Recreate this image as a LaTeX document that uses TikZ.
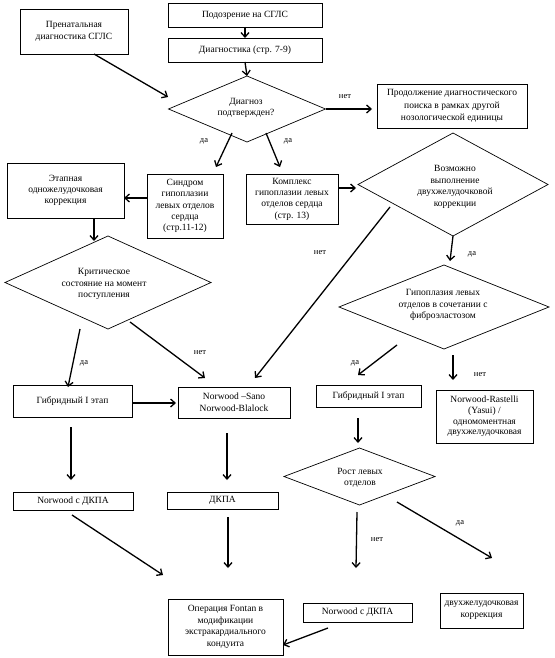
\documentclass[tikz,border=0pt]{standalone}
\usepackage{fontspec}
\setmainfont{Liberation Serif}
\usetikzlibrary{shapes.geometric,arrows.meta,shadows}
\begin{document}
\begin{tikzpicture}[x=1pt,y=-1pt,
  box/.style={draw, fill=white, line width=0.7pt, align=center, inner sep=1pt, outer sep=0pt,
    font=\fontsize{9.5}{11.5}\selectfont,
    drop shadow={shadow xshift=1pt, shadow yshift=-1pt, fill=black!60, opacity=1}},
  dia/.style={draw, diamond, line width=0.7pt, inner sep=0pt, outer sep=0pt},
  diatext/.style={align=center, inner sep=0pt, font=\fontsize{9.5}{11.5}\selectfont},
  arr/.style={line width=1.3pt, -{Straight Barb[length=4.5pt,width=8pt,line width=1.3pt]}},
  lab/.style={font=\fontsize{8.5}{10}\selectfont, inner sep=0pt}]
\useasboundingbox (0,0) rectangle (554,658);

% ---- boxes
\node[box, minimum width=154pt, minimum height=24pt] (b1) at (245,15) {Подозрение на СГЛС};
\node[box, minimum width=108pt, minimum height=45pt] (b2) at (74,31.5) {Пренатальная\\диагностика СГЛС};
\node[box, minimum width=154pt, minimum height=24pt] (b3) at (245,50) {Диагностика (стр. 7-9)};
\node[box, minimum width=150pt, minimum height=44pt, font=\fontsize{9.5}{12.5}\selectfont] (b4) at (452,106)
  {Продолжение диагностического\\поиска в рамках другой\\нозологической единицы};
\node[box, minimum width=117pt, minimum height=55pt, font=\fontsize{9.5}{11.3}\selectfont] (b5) at (65.5,190.5)
  {Этапная\\одножелудочковая\\коррекция};
\node[box, minimum width=76pt, minimum height=64pt, font=\fontsize{9.5}{11.3}\selectfont] (b6) at (185,206)
  {Синдром\\гипоплазии\\левых отделов\\сердца\\(стр.11-12)};
\node[box, minimum width=92pt, minimum height=50pt, font=\fontsize{9.5}{11.3}\selectfont] (b7) at (292,199)
  {Комплекс\\гипоплазии левых\\отделов сердца\\(стр. 13)};
\node[box, minimum width=119pt, minimum height=32pt] (b8) at (72.5,401) {Гибридный I этап};
\node[box, minimum width=112pt, minimum height=31pt, font=\fontsize{9.5}{12}\selectfont] (b9) at (234,402.5)
  {Norwood –Sano\\Norwood-Blalock};
\node[box, minimum width=105pt, minimum height=22pt] (b10) at (368.5,396) {Гибридный I этап};
\node[box, minimum width=97pt, minimum height=53pt, font=\fontsize{9.5}{10.8}\selectfont] (b11) at (484.5,416.5)
  {Norwood-Rastelli\\(Yasui) /\\одномоментная\\двухжелудочковая};
\node[box, minimum width=120pt, minimum height=18pt] (b12) at (73,501) {Norwood с ДКПА};
\node[box, minimum width=111pt, minimum height=17pt] (b13) at (222.5,500.5) {ДКПА};
\node[box, minimum width=109pt, minimum height=19pt] (b14) at (357.5,612.5) {Norwood с ДКПА};
\node[box, minimum width=83pt, minimum height=35pt, font=\fontsize{9.5}{11.7}\selectfont] (b15) at (481.5,610.5)
  {двухжелудочковая\\коррекция};
\node[box, minimum width=115pt, minimum height=56pt, font=\fontsize{9.5}{11.7}\selectfont] (b16) at (225.5,627)
  {Операция Fontan в\\модификации\\экстракардиального\\кондуита};

% ---- diamonds
\node[dia, minimum width=157pt, minimum height=66pt] (d1) at (247,109) {};
\node[diatext] (d1t) at (246,108) {Диагноз\\подтвержден?};
\node[dia, minimum width=206pt, minimum height=93pt] (d2) at (108,282.5) {};
\node[diatext] (d2t) at (104,284) {Критическое\\состояние на момент\\поступления};
\node[dia, minimum width=190pt, minimum height=103pt] (d3) at (453,184.5) {};
\node[diatext] (d3t) at (455,187) {Возможно\\выполнение\\двухжелудочковой\\коррекции};
\node[dia, minimum width=210pt, minimum height=84pt] (d4) at (444,307) {};
\node[diatext] (d4t) at (443,305) {Гипоплазия левых\\отделов в сочетании с\\фиброэластозом};
\node[dia, minimum width=151pt, minimum height=57pt] (d5) at (359.5,476.5) {};
\node[diatext] (d5t) at (360,478) {Рост левых\\отделов};

% ---- free connector ends
\coordinate (p3e) at (168,97);
\coordinate (p5s) at (232,133);  \coordinate (p5e) at (216,167);
\coordinate (p6s) at (266,133);  \coordinate (p6e) at (280,167);
\coordinate (p9s) at (80,329);   \coordinate (p9e) at (68,387);
\coordinate (p10s) at (130,322); \coordinate (p10e) at (205,378);
\coordinate (p12s) at (390,207); \coordinate (p12e) at (255,378);
\coordinate (p14e) at (450,261);
\coordinate (p15s) at (397,345); \coordinate (p15e) at (358,375);
\coordinate (p16s) at (453,355); \coordinate (p16e) at (453,380);
\coordinate (p17s) at (358,418); \coordinate (p17e) at (358,443);
\coordinate (p18s) at (357,512); \coordinate (p18e) at (356,568);
\coordinate (p19s) at (397,502); \coordinate (p19e) at (492,558);
\coordinate (p20s) at (72,515);  \coordinate (p20e) at (163,575);
\coordinate (p21s) at (228,517); \coordinate (p21e) at (228,568);
\coordinate (p22s) at (227,433); \coordinate (p22e) at (227,480);
\coordinate (p23s) at (71,427);  \coordinate (p23e) at (71,480);
\coordinate (p24s) at (328,628);
\coordinate (p8e) at (94,241);

% ---- connectors
\draw[arr] (b1.south) -- (b3.north);
\draw[arr] (b3.south) -- (d1.north);
\draw[arr] ([xshift=20pt]b2.south) -- (p3e);
\draw[arr, shorten >=5pt] (d1.east) -- (d1.east -| b4.west);
\draw[arr] (p5s) -- (p5e);
\draw[arr] (p6s) -- (p6e);
\draw[arr] (b6.west |- 0,198) -- (b5.east |- 0,198);
\draw[arr] (b5.south -| p8e) -- (p8e);
\draw[arr] (b7.east |- 0,188) -- (356,188);
\draw[arr] (p9s) -- (p9e);
\draw[arr] (p10s) -- (p10e);
\draw[arr, shorten >=2pt] (b8.east |- 0,403) -- (b9.west |- 0,403);
\draw[arr] (p12s) -- (p12e);
\draw[arr] (d3.south) -- (p14e);
\draw[arr] (p15s) -- (p15e);
\draw[arr] (p16s) -- (p16e);
\draw[arr] (p17s) -- (p17e);
\draw[arr] (p18s) -- (p18e);
\draw[arr] (p19s) -- (p19e);
\draw[arr] (p20s) -- (p20e);
\draw[arr] (p21s) -- (p21e);
\draw[arr] (p22s) -- (p22e);
\draw[arr] (p23s) -- (p23e);
\draw[arr] (p24s) -- (b16.east |- 0,645);

% ---- labels
\node[lab] (l1) at (345,97) {нет};
\node[lab] (l2) at (204,141) {да};
\node[lab] (l3) at (288,141) {да};
\node[lab] (l4) at (320,253) {нет};
\node[lab] (l5) at (472,254) {да};
\node[lab] (l6) at (84,363) {да};
\node[lab] (l7) at (200,353) {нет};
\node[lab] (l8) at (355,363) {да};
\node[lab] (l9) at (480,375) {нет};
\node[lab] (l10) at (377,540) {нет};
\node[lab] (l11) at (460,523) {да};
\end{tikzpicture}
\end{document}
